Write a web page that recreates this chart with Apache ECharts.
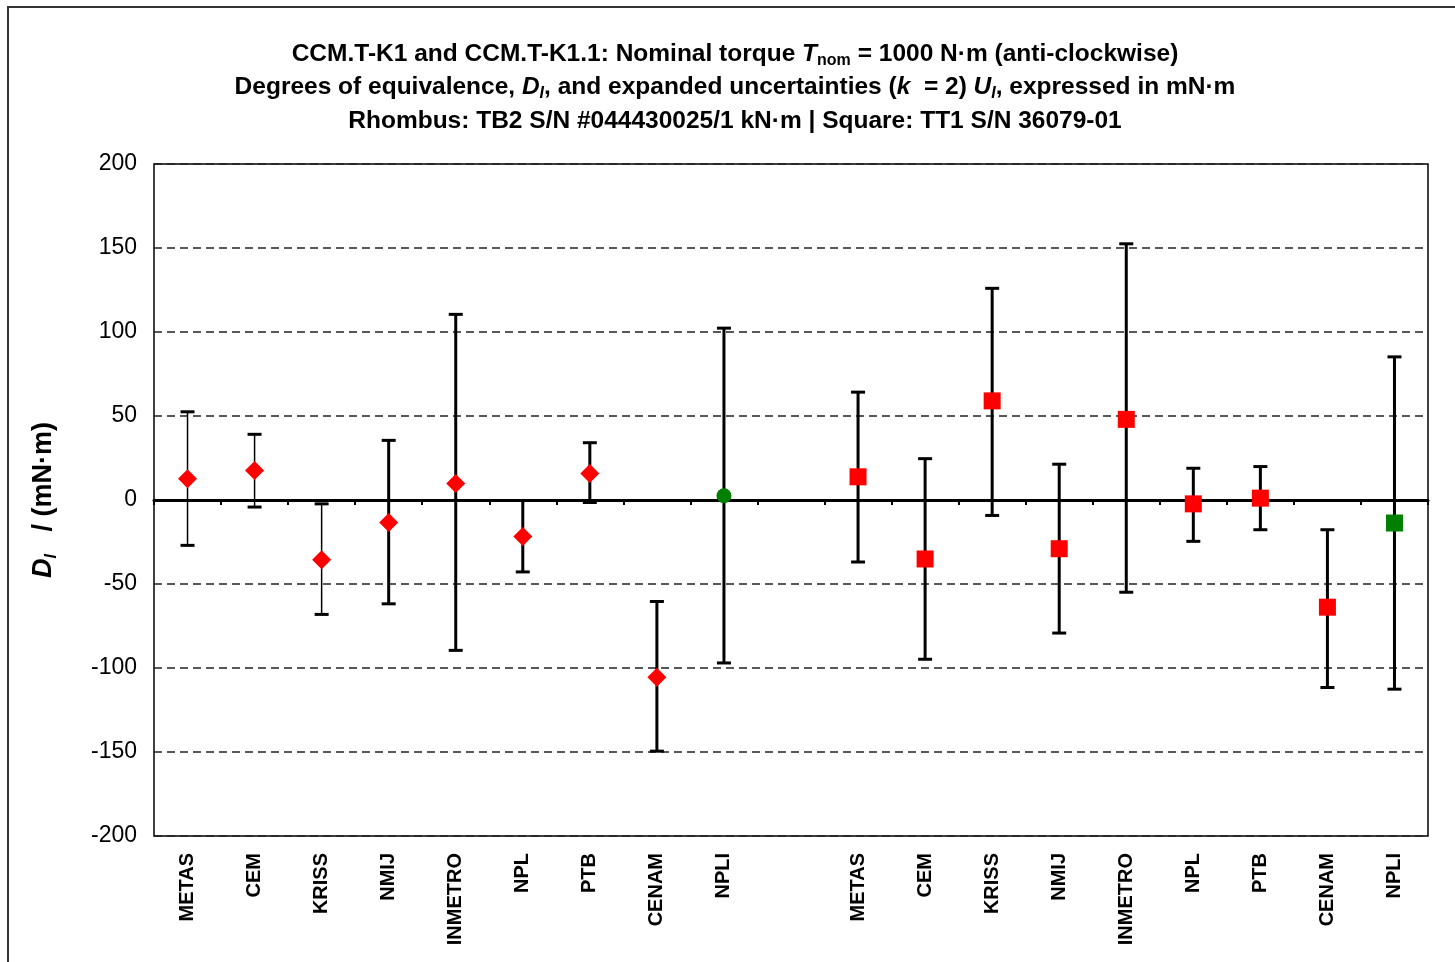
<!DOCTYPE html>
<html>
<head>
<meta charset="utf-8">
<script src="https://cdn.jsdelivr.net/npm/echarts@6/dist/echarts.min.js"></script>
<style>
  html, body { margin: 0; padding: 0; background: #fff; }
  #chart { width: 1455px; height: 962px; }
</style>
</head>
<body>
<div id="chart"></div>
<script>
// labs: one slot left empty between the two transfer standards
const labs = ['METAS', 'CEM', 'KRISS', 'NMIJ', 'INMETRO', 'NPL', 'PTB', 'CENAM', 'NPLI', '',
              'METAS', 'CEM', 'KRISS', 'NMIJ', 'INMETRO', 'NPL', 'PTB', 'CENAM', 'NPLI'];

// rhombus: TB2 S/N #044430025/1 kN·m
const rhombusD  = [12.6, 17.5, -35.5, -13.4, 9.8, -21.7, 15.7, -105.5, 2.5];
const rhombusHi = [52.5, 39.1, -2.3, 35.5, 110.5, -0.3, 34.1, -60.4, 102.3];
const rhombusLo = [-27, -4.2, -68.1, -61.8, -89.5, -42.8, -1.5, -149.5, -97];

// square: TT1 S/N 36079-01
const squareD  = [13.8, -35.1, 59, -29, 48, -2.3, 1.1, -63.8, -13.7];
const squareHi = [64.2, 24.6, 126, 21.3, 152.5, 18.9, 19.9, -17.7, 85.2];
const squareLo = [-36.9, -94.8, -9.2, -79.2, -54.9, -24.6, -17.7, -111.6, -112.6];

const yTicks = { min: -200, max: 200, step: 50 };

const FONT = '"Liberation Sans", Arial, sans-serif';
const RED = '#ff0000', GREEN = '#008000';
const offset2 = 10;     // first slot of the second group
const thinBars = 3;     // first three rhombus bars are drawn thin

function barData(lo, hi, start) {
  return lo.map((v, i) => [start + i, v, hi[i]]);
}

function pointData(d, start, shape) {
  return d.map((v, i) => {
    const green = labs[start + i] === 'NPLI';
    let sym = shape, size = shape === 'diamond' ? 19 : 17;
    if (green && shape === 'diamond') { sym = 'circle'; size = 15; }
    return { value: [start + i, v], symbol: sym, symbolSize: size,
             itemStyle: { color: green ? GREEN : RED, opacity: 1 } };
  });
}

function renderBar(params, api) {
  const x = api.value(0);
  const lo = api.coord([x, api.value(1)]);
  const hi = api.coord([x, api.value(2)]);
  const w = x < thinBars ? 1.5 : 3;
  const cap = 7;
  const st = { stroke: '#000', lineWidth: w };
  const capSt = { stroke: '#000', lineWidth: 3 };
  return {
    type: 'group',
    children: [
      { type: 'line', shape: { x1: hi[0], y1: hi[1], x2: lo[0], y2: lo[1] }, style: st },
      { type: 'line', shape: { x1: hi[0] - cap, y1: hi[1], x2: hi[0] + cap, y2: hi[1] }, style: capSt },
      { type: 'line', shape: { x1: lo[0] - cap, y1: lo[1], x2: lo[0] + cap, y2: lo[1] }, style: capSt }
    ]
  };
}

const TS = 24.5;
const titleRich = {
  i:   { fontStyle: 'italic', fontWeight: 'bold', fontSize: TS, fontFamily: FONT, lineHeight: 30 },
  s:   { fontSize: 16, fontWeight: 'bold', fontFamily: FONT, lineHeight: 16, verticalAlign: 'bottom' },
  si:  { fontSize: 16, fontWeight: 'bold', fontStyle: 'italic', fontFamily: FONT, lineHeight: 16, verticalAlign: 'bottom' },
  n:   { fontSize: TS, fontWeight: 'bold', fontFamily: FONT, lineHeight: 30 }
};

function titleLine(text, y) {
  return {
    type: 'text', x: 735, y: y, z: 10,
    style: {
      text: text, rich: titleRich, fill: '#000',
      font: 'bold ' + TS + 'px ' + FONT, textAlign: 'center', textVerticalAlign: 'middle'
    }
  };
}

const chart = echarts.init(document.getElementById('chart'));
chart.setOption({
  backgroundColor: '#fff',
  animation: false,
  grid: {
    left: 154, right: 27, top: 164, bottom: 126,
    show: true, borderColor: '#000', borderWidth: 1.5, backgroundColor: 'transparent'
  },
  graphic: [
    { type: 'rect', shape: { x: 8, y: 7, width: 1470, height: 980 },
      style: { fill: 'none', stroke: '#333', lineWidth: 2 }, z: -1 },
    titleLine('{n|CCM.T-K1 and CCM.T-K1.1: Nominal torque }{i|T}{s|nom}{n| = 1000 N·m (anti-clockwise)}', 54),
    titleLine('{n|Degrees of equivalence, }{i|D}{si|I}{n|, and expanded uncertainties (}{i|k}{n|  = 2) }{i|U}{si|I}{n|, expressed in mN·m}', 87),
    titleLine('{n|Rhombus: TB2 S/N #044430025/1 kN·m | Square: TT1 S/N 36079-01}', 121)
  ],
  xAxis: [
    {
      type: 'category', data: labs, boundaryGap: true,
      axisLine: { onZero: true, lineStyle: { color: '#000', width: 3 } },
      axisTick: { show: true, alignWithLabel: false, interval: 0, length: 5,
                  lineStyle: { color: '#000', width: 2 } },
      axisLabel: { show: false },
      splitLine: { show: false }
    },
    {
      type: 'category', data: labs, position: 'bottom', boundaryGap: true,
      axisLine: { show: false, onZero: false },
      axisTick: { show: false },
      axisLabel: {
        interval: 0, rotate: 90, margin: 17, color: '#000',
        fontFamily: FONT, fontWeight: 'bold', fontSize: 20
      },
      splitLine: { show: false }
    }
  ],
  yAxis: {
    type: 'value', min: yTicks.min, max: yTicks.max, interval: yTicks.step,
    axisLine: { show: false },
    axisTick: { show: false },
    axisLabel: { color: '#000', fontFamily: FONT, fontSize: 23, margin: 17 },
    splitLine: { show: true, lineStyle: { color: '#222', width: 1.5, type: [8, 5] } },
    name: '{d|D}{s|I}{n|   / (mN·m)}',
    nameLocation: 'middle', nameGap: 94, nameRotate: 90,
    nameTextStyle: {
      color: '#000',
      rich: {
        d: { fontFamily: FONT, fontWeight: 'bold', fontStyle: 'italic', fontSize: 27, lineHeight: 32 },
        s: { fontFamily: FONT, fontWeight: 'bold', fontStyle: 'italic', fontSize: 16, lineHeight: 16, verticalAlign: 'bottom' },
        n: { fontFamily: FONT, fontWeight: 'bold', fontSize: 27, lineHeight: 32 }
      }
    }
  },
  series: [
    { type: 'custom', renderItem: renderBar, data: barData(rhombusLo, rhombusHi, 0),
      encode: { x: 0, y: [1, 2] }, z: 3 },
    { type: 'custom', renderItem: renderBar, data: barData(squareLo, squareHi, offset2),
      encode: { x: 0, y: [1, 2] }, z: 3 },
    { type: 'scatter', data: pointData(rhombusD, 0, 'diamond'), z: 5 },
    { type: 'scatter', data: pointData(squareD, offset2, 'rect'), z: 5 }
  ]
});
</script>
</body>
</html>
